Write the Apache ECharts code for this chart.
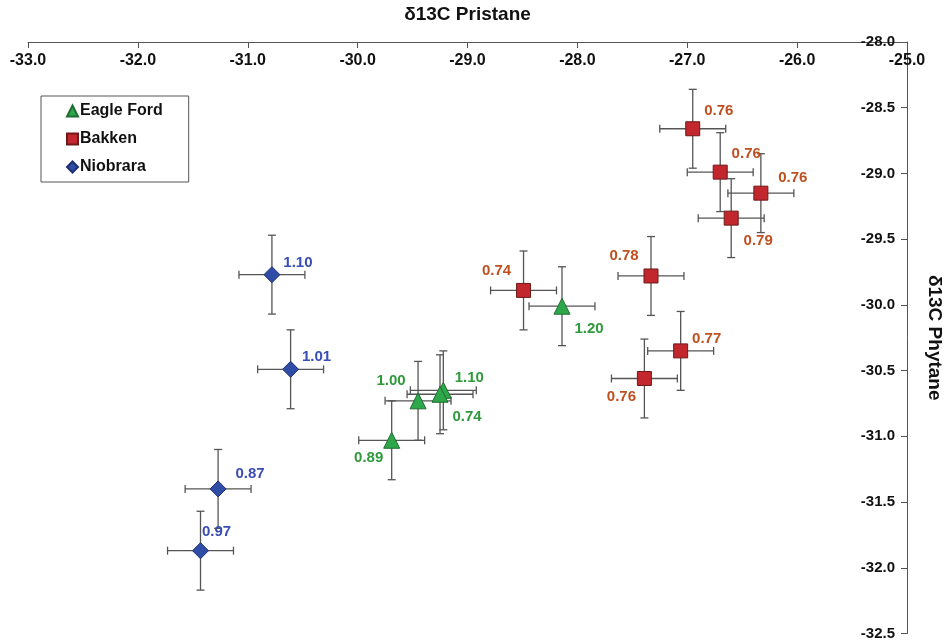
<!DOCTYPE html>
<html>
<head>
<meta charset="utf-8">
<script src="https://cdn.jsdelivr.net/npm/echarts@6/dist/echarts.min.js"></script>
<style>html,body{margin:0;padding:0;background:#fff}#c{width:952px;height:641px}</style>
</head>
<body>
<div id="c"></div>
<script>
// ---- data ----
const xTicks = [-33, -32, -31, -30, -29, -28, -27, -26, -25];
const yTicks = [-28, -28.5, -29, -29.5, -30, -30.5, -31, -31.5, -32, -32.5];

const eagleX = [-28.14, -29.45, -29.22, -29.25, -29.69];
const eagleY = [-30.01, -30.73, -30.65, -30.68, -31.03];
const eagleErrX = [0.3, 0.3, 0.3, 0.3, 0.3];
const eagleErrY = [0.3, 0.3, 0.3, 0.3, 0.3];
const eagleLabels = ['1.20', '1.00', '1.10', '0.74', '0.89'];

const bakkenX = [-26.95, -26.70, -26.33, -26.60, -27.33, -28.49, -27.06, -27.39];
const bakkenY = [-28.66, -28.99, -29.15, -29.34, -29.78, -29.89, -30.35, -30.56];
const bakkenErrX = [0.3, 0.3, 0.3, 0.3, 0.3, 0.3, 0.3, 0.3];
const bakkenErrY = [0.3, 0.3, 0.3, 0.3, 0.3, 0.3, 0.3, 0.3];
const bakkenLabels = ['0.76', '0.76', '0.76', '0.79', '0.78', '0.74', '0.77', '0.76'];

const niobX = [-30.78, -30.61, -31.27, -31.43];
const niobY = [-29.77, -30.49, -31.40, -31.87];
const niobErrX = [0.3, 0.3, 0.3, 0.3];
const niobErrY = [0.3, 0.3, 0.3, 0.3];
const niobLabels = ['1.10', '1.01', '0.87', '0.97'];

// ---- label placement (style) ----
const eaglePlace = ['SE', 'NW', 'E', 'SE', 'SW'];
const bakkenPlace = ['NE', 'NE', 'NE2', 'SE', 'NW', 'NW', 'E', 'SW'];
const niobPlace = ['E', 'E', 'NE2', 'N'];
const placeOffsets = {
  NE: [26, -18], NE2: [32, -15], NW: [-27, -20], SE: [27, 23], SW: [-23, 18],
  E: [26, -12], N: [16, -19]
};

const font = '"Liberation Sans", Arial, sans-serif';

function points(xs, ys, labels, places) {
  return xs.map((x, i) => ({
    value: [x, ys[i]],
    label: { offset: placeOffsets[places[i]], formatter: labels[i] }
  }));
}
function errData(xs, ys, ex, ey) {
  return xs.map((x, i) => [x, ys[i], ex[i], ey[i]]);
}
function errRender(params, api) {
  const x = api.value(0), y = api.value(1), ex = api.value(2), ey = api.value(3);
  const c = api.coord([x, y]);
  const l = api.coord([x - ex, y]), r = api.coord([x + ex, y]);
  const t = api.coord([x, y + ey]), b = api.coord([x, y - ey]);
  const cap = 4;
  const st = { stroke: '#555', lineWidth: 1.3 };
  const line = (x1, y1, x2, y2) => ({ type: 'line', shape: { x1, y1, x2, y2 }, style: st });
  return {
    type: 'group',
    children: [
      line(l[0], c[1], r[0], c[1]),
      line(l[0], c[1] - cap, l[0], c[1] + cap),
      line(r[0], c[1] - cap, r[0], c[1] + cap),
      line(c[0], t[1], c[0], b[1]),
      line(c[0] - cap, t[1], c[0] + cap, t[1]),
      line(c[0] - cap, b[1], c[0] + cap, b[1])
    ]
  };
}
function errSeries(data) {
  return {
    type: 'custom', renderItem: errRender, data: data, z: 1, silent: true,
    encode: { x: 0, y: 1 }
  };
}
function scatter(name, data, symbol, size, fill, border, labelColor) {
  return {
    name: name, type: 'scatter', data: data, symbol: symbol, symbolSize: size, z: 3,
    itemStyle: { color: fill, borderColor: border, borderWidth: 1, opacity: 1 },
    label: {
      show: true, position: 'inside', color: labelColor,
      fontFamily: font, fontWeight: 'bold', fontSize: 15
    }
  };
}

const chart = echarts.init(document.getElementById('c'));
chart.setOption({
  animation: false,
  backgroundColor: '#fff',
  grid: { left: 28, right: 42, top: 35, bottom: 7, containLabel: false },
  legend: {
    orient: 'vertical', left: 41, top: 96,
    data: ['Eagle Ford', 'Bakken', 'Niobrara'],
    borderColor: '#555', borderWidth: 1,
    padding: [6, 26, 6, 25], itemGap: 10, itemWidth: 11, itemHeight: 11,
    textStyle: { fontFamily: font, fontWeight: 'bold', fontSize: 16, color: '#111', lineHeight: 18, padding: [0, 0, 0, -3] }
  },
  xAxis: {
    type: 'value', position: 'top', min: -33, max: -25, interval: 1,
    name: 'δ13C Pristane', nameLocation: 'middle', nameGap: 18,
    nameTextStyle: { fontFamily: font, fontWeight: 'bold', fontSize: 19, color: '#111' },
    axisLine: { onZero: false, lineStyle: { color: '#555', width: 1 } },
    axisTick: { inside: true, length: 6, lineStyle: { color: '#555' } },
    axisLabel: {
      inside: true, margin: 11, color: '#111', fontFamily: font, fontWeight: 'bold', fontSize: 16,
      formatter: v => v.toFixed(1), showMaxLabel: true, showMinLabel: true
    },
    splitLine: { show: false }
  },
  yAxis: {
    type: 'value', position: 'right', min: -32.5, max: -28, interval: 0.5,
    name: 'δ13C Phytane', nameLocation: 'middle', nameGap: 18, nameRotate: -90,
    nameTextStyle: { fontFamily: font, fontWeight: 'bold', fontSize: 19, color: '#111' },
    axisLine: { onZero: false, lineStyle: { color: '#555', width: 1 } },
    axisTick: { inside: true, length: 6, lineStyle: { color: '#555' } },
    axisLabel: {
      inside: true, margin: 12, color: '#111', fontFamily: font, fontWeight: 'bold', fontSize: 15,
      formatter: v => v.toFixed(1)
    },
    splitLine: { show: false }
  },
  series: [
    errSeries(errData(eagleX, eagleY, eagleErrX, eagleErrY)),
    errSeries(errData(bakkenX, bakkenY, bakkenErrX, bakkenErrY)),
    errSeries(errData(niobX, niobY, niobErrX, niobErrY)),
    scatter('Eagle Ford', points(eagleX, eagleY, eagleLabels, eaglePlace), 'triangle', 16, '#2ea64a', '#1f6d33', '#2e9a3c'),
    scatter('Bakken', points(bakkenX, bakkenY, bakkenLabels, bakkenPlace), 'rect', 14, '#c1272d', '#6e1a1a', '#bf4f1f'),
    scatter('Niobrara', points(niobX, niobY, niobLabels, niobPlace), 'diamond', 16, '#2f4ca6', '#1e2f70', '#3a4db4')
  ]
});
</script>
</body>
</html>
